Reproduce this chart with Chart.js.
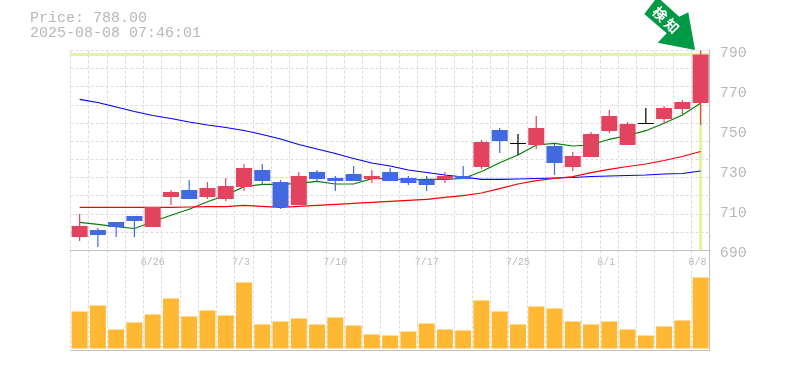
<!DOCTYPE html>
<html>
<head>
<meta charset="utf-8">
<script src="https://cdn.jsdelivr.net/npm/chart.js@4"></script>
<style>
  body { margin: 0; background: #fff; }
  #wrap { position: relative; width: 785px; height: 370px; overflow: hidden; }
  canvas { position: absolute; left: 0; top: 0; }
  .info { position: absolute; left: 30px; font: 15px "Liberation Mono", monospace; color: #b8b8b8; white-space: pre; line-height: 15px; }
</style>
</head>
<body>
<div id="wrap">
  <canvas id="chart" width="785" height="370"></canvas>
  <div class="info" style="top:11px">Price: 788.00</div>
  <div class="info" style="top:26px">2025-08-08 07:46:01</div>
</div>
<script>
const categories = ["6/20","6/23","6/24","6/25","6/26","6/27","6/30","7/1","7/2","7/3","7/4","7/7","7/8","7/9","7/10","7/11","7/14","7/15","7/16","7/17","7/18","7/22","7/23","7/24","7/25","7/28","7/29","7/30","7/31","8/1","8/4","8/5","8/6","8/7","8/8"];
const dateTicks = ["6/26","7/3","7/10","7/17","7/25","8/1","8/8"];
const priceTicks = [790, 770, 750, 730, 710, 690];
const lastPrice = 788;

const opens = [696.75,700.25,704.25,707.25,701.75,716.75,720.25,716.75,715.75,721.75,730.25,724.25,712.75,729.25,726.25,728.25,725.75,729.25,726.25,725.25,725.75,727.25,731.75,750.25,743.25,742.75,742.25,731.75,736.75,749.75,742.75,753.25,755.75,760.75,763.75];
const closes = [702.25,697.75,701.75,704.75,711.75,719.25,715.75,721.25,722.25,731.25,724.75,711.75,727.25,725.75,724.75,724.75,727.25,724.75,723.75,722.75,727.25,725.75,744.25,744.75,743.25,751.25,733.75,737.25,748.25,757.25,753.25,753.25,761.25,764.25,788];
const highs = [708.25,701.25,704.25,707.25,711.75,720.25,725.25,724.25,726.25,733.25,733.25,725.25,729.25,730.25,727.25,732.25,730.25,731.25,727.25,727.25,729.25,732.25,745.25,751.25,748.25,757.25,743.25,739.25,749.25,760.25,754.25,761.25,762.25,765.25,790.25];
const lows = [694.75,691.75,696.75,696.75,701.75,712.75,715.75,715.75,714.75,719.75,722.75,710.75,712.75,724.25,719.75,724.75,723.75,724.75,722.75,719.75,723.75,725.75,730.75,738.75,737.75,740.75,727.75,729.75,736.75,748.75,742.75,753.25,753.25,758.25,752.75];

const maShort = [704.1,703.1,701.9,701,704.4,707.6,710.6,714.4,717.6,721.9,723.1,723.1,723.6,724.6,723.25,723.25,725.9,725.9,725.25,725.6,725.6,726,729.5,733.9,737.75,742.75,743.6,742.25,742.75,745.6,747.5,749.9,753.6,757.75,763.6];
const maMid = [765.6,764,761.75,759.5,757.5,756,754.25,752.75,751.5,750,748,745.75,743,740.75,738.5,736,733.75,732.25,730.25,729,727.75,726.75,725.6,725.6,725.75,726,726.25,726.5,727,727.25,727.5,727.75,728.25,728.5,729.75];
const maLong = [711.6,711.6,711.6,711.6,711.6,711.6,711.75,711.9,711.9,712.6,712.1,711.6,712.1,712.6,713.1,713.6,714.1,714.6,715.1,715.6,716.6,717.4,718.75,720.9,723.25,724.9,726,726.9,728.9,730.6,732,733.25,735,737,739.5];

const volumes = [37,43,19,26,34,50,32,38,33,66,24,27,30,24,31,23,14,13,17,25,19,18,48,37,24,42,40,27,24,27,19,13,22,28,71];

const UP = "#e2435f";
const DOWN = "#4169e1";
const DOJI = "#000000";
const MARK = "#dff5a3";
const AXIS = "#c0c0c0";
const GRID = "#dcdcdc";

const candleColor = opens.map((o, i) => closes[i] === o ? DOJI : closes[i] > o ? UP : DOWN);

// the dashed rows do not line up with the price labels, 11 equal rows in the top panel
const gridRows = [];
for (let i = 0; i <= 11; i++) gridRows.push(790 - i * 100 / 11);

// labels sit about 2px under their real level in the reference
const LABEL_SHIFT = 1.4;

const arrowMark = {
  id: "arrowMark",
  afterDraw(chart) {
    const ctx = chart.ctx;
    ctx.save();
    ctx.fillStyle = "#009944";
    ctx.beginPath();
    [[644.3,14],[655,0],[660.7,0],[679.3,16.7],[688.3,12.3],[695,50],[657.7,42.7],[666.7,33.3]].forEach((p, i) => {
      if (i === 0) ctx.moveTo(p[0], p[1]); else ctx.lineTo(p[0], p[1]);
    });
    ctx.closePath();
    ctx.fill();
    ctx.translate(666, 20);
    ctx.rotate(Math.PI / 4);
    ctx.fillStyle = "#fff";
    ctx.font = 'bold 14px "Noto Sans CJK JP"';
    ctx.letterSpacing = "3px";
    ctx.textAlign = "center";
    ctx.textBaseline = "middle";
    ctx.fillText("検知", 1.5, 0);
    ctx.restore();
  },
};

new Chart(document.getElementById("chart"), {
  type: "bar",
  plugins: [arrowMark],
  data: {
    labels: categories,
    datasets: [
      {
        label: "last",
        data: categories.map((c, i) => i === categories.length - 1 ? [690, 790] : null),
        backgroundColor: MARK,
        barThickness: 3,
        inflateAmount: 0,
        grouped: false,
        yAxisID: "y",
        order: 9,
      },
      { type: "line", label: "ma long", data: maLong, borderColor: "#ff0000", borderWidth: 1.2, pointRadius: 0, yAxisID: "y", order: 5 },
      { type: "line", label: "ma mid", data: maMid, borderColor: "#0000ff", borderWidth: 1.2, pointRadius: 0, yAxisID: "y", order: 5 },
      { type: "line", label: "ma short", data: maShort, borderColor: "#008000", borderWidth: 1.2, pointRadius: 0, yAxisID: "y", order: 5 },
      {
        label: "wick",
        data: lows.map((l, i) => [l, highs[i]]),
        backgroundColor: candleColor,
        barThickness: 1.2,
        inflateAmount: 0,
        grouped: false,
        yAxisID: "y",
        order: 2,
      },
      {
        label: "body",
        data: opens.map((o, i) => [o, closes[i]]),
        backgroundColor: candleColor,
        barThickness: 16,
        inflateAmount: 0,
        minBarLength: 1,
        grouped: false,
        yAxisID: "y",
        order: 1,
      },
      {
        label: "volume",
        data: volumes,
        backgroundColor: "#ffb833",
        barThickness: 16,
        inflateAmount: 0,
        grouped: false,
        yAxisID: "yVol",
        order: 3,
      },
    ],
  },
  options: {
    responsive: false,
    animation: false,
    layout: { padding: { left: 70.5, top: 50.5, bottom: 19.5, right: 0 } },
    plugins: { legend: { display: false }, tooltip: { enabled: false } },
    scales: {
      x: {
        type: "category",
        offset: true,
        position: { yVol: 98 },
        grid: { offset: true, color: GRID, drawTicks: false },
        border: { color: AXIS, dash: [3, 2] },
        ticks: {
          autoSkip: false,
          maxRotation: 0,
          padding: 6,
          color: "#bbb",
          font: { family: "'Liberation Mono', monospace", size: 10 },
          // short dates are left aligned with the long ones
          callback: function (value) {
            const label = this.getLabelForValue(value);
            if (!dateTicks.includes(label)) return "";
            return label.length < 4 ? label + " " : label;
          },
        },
      },
      y: {
        position: "right",
        stack: "panels",
        stackWeight: 2,
        min: 690,
        max: 790,
        afterBuildTicks: (scale) => {
          scale.ticks = gridRows.map((v) => ({ value: v, kind: "row" }))
            .concat([{ value: lastPrice, kind: "last" }])
            .concat(priceTicks.map((v) => ({ value: v - LABEL_SHIFT, kind: "label", price: v })));
        },
        afterFit: (scale) => { scale.width = 75.25; },
        grid: {
          drawTicks: false,
          color: (ctx) => !ctx.tick ? GRID : ctx.tick.kind === "last" ? MARK : ctx.tick.kind === "label" ? "transparent" : GRID,
          lineWidth: (ctx) => ctx.tick && ctx.tick.kind === "last" ? 3 : 1,
        },
        border: {
          color: AXIS,
          dash: (ctx) => ctx.tick && ctx.tick.kind === "last" ? [] : [3, 2],
        },
        ticks: {
          autoSkip: false,
          padding: 10,
          color: "#b8b8b8",
          font: { family: "'Liberation Mono', monospace", size: 15 },
          callback: function (value, index, ticks) {
            return ticks[index].kind === "label" ? String(ticks[index].price) : "";
          },
        },
      },
      yVol: {
        position: "right",
        stack: "panels",
        stackWeight: 1,
        min: -2,
        max: 98,
        afterBuildTicks: (scale) => { scale.ticks = [{ value: -2 }]; },
        afterFit: (scale) => { scale.width = 75.25; },
        grid: { color: AXIS, drawTicks: false },
        border: { color: AXIS },
        ticks: { display: false },
      },
    },
  },
});
</script>
</body>
</html>
